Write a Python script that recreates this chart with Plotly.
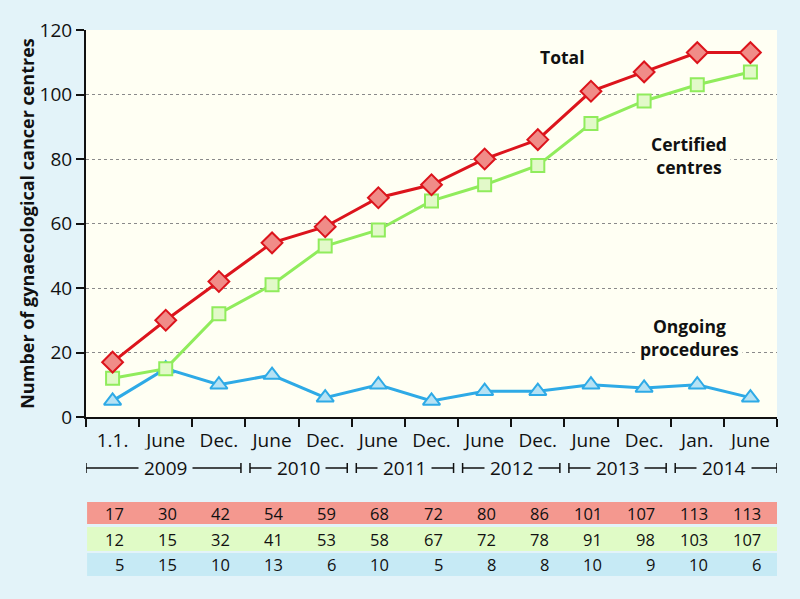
import plotly.graph_objects as go

BG = "#e3f3f9"
PLOT_BG = "#fffff3"
RED = "#dc141c"
GREEN = "#90ec5c"
BLUE = "#2eaae6"
FONT = "Open Sans"

# x-axis labels (one per survey date) and the year groups beneath them
periods = ["1.1.", "June", "Dec.", "June", "Dec.", "June", "Dec.",
           "June", "Dec.", "June", "Dec.", "Jan.", "June"]
years = ["2009", "2010", "2011", "2012", "2013", "2014"]
year_first = [0, 3, 5, 7, 9, 11]
year_last = [2, 4, 6, 8, 10, 12]

total = [17, 30, 42, 54, 59, 68, 72, 80, 86, 101, 107, 113, 113]
certified = [12, 15, 32, 41, 53, 58, 67, 72, 78, 91, 98, 103, 107]
ongoing = [5, 15, 10, 13, 6, 10, 5, 8, 8, 10, 9, 10, 6]

# layout in pixels
W, H = 800, 599
M_L, M_R, M_T, M_B = 86, 23, 30, 182
PLOT_H = H - M_T - M_B


def py(pix):
    """pixel y (from top of page) -> paper y"""
    return (H - M_B - pix) / PLOT_H


xs = list(range(len(periods)))

fig = go.Figure()
fig.add_trace(go.Scatter(
    x=xs, y=ongoing, mode="lines+markers", name="Ongoing procedures",
    line=dict(color=BLUE, width=3),
    marker=dict(symbol="triangle-up", size=15, color="#b6e2f4",
                line=dict(color=BLUE, width=2)),
))
fig.add_trace(go.Scatter(
    x=xs, y=certified, mode="lines+markers", name="Certified centres",
    line=dict(color=GREEN, width=3),
    marker=dict(symbol="square", size=13, color="#e2f9c9",
                line=dict(color=GREEN, width=2)),
))
fig.add_trace(go.Scatter(
    x=xs, y=total, mode="lines+markers", name="Total",
    line=dict(color=RED, width=3),
    marker=dict(symbol="diamond", size=16, color="#f08c88",
                line=dict(color=RED, width=2)),
))

annotations = []
shapes = []

# series labels inside the plot
for txt, x, y in [("Total", 8.45, 111.5),
                  ("Certified<br>centres", 10.85, 81),
                  ("Ongoing<br>procedures", 10.85, 24.5)]:
    annotations.append(dict(
        x=x, y=y, xref="x", yref="y", text=f"<b>{txt}</b>", showarrow=False,
        font=dict(family=FONT, size=17.5, color="#111"), bgcolor=PLOT_BG,
        borderpad=3,
    ))

# year brackets
yb = py(468)
cap = 5 / PLOT_H
inset = 0.085
for yr, a, b in zip(years, year_first, year_last):
    x0 = a - 0.5 + (0 if a == 0 else inset)
    x1 = b + 0.5 - (0 if b == len(periods) - 1 else inset)
    line = dict(color="#111", width=1.5)
    shapes.append(dict(type="line", xref="x", yref="paper", x0=x0, x1=x1,
                       y0=yb, y1=yb, line=line))
    for xe in (x0, x1):
        shapes.append(dict(type="line", xref="x", yref="paper", x0=xe, x1=xe,
                           y0=yb - cap, y1=yb + cap, line=line))
    annotations.append(dict(
        x=(a + b) / 2, y=yb, xref="x", yref="paper", text=yr, showarrow=False,
        yanchor="middle", font=dict(family=FONT, size=19, color="#111"),
        bgcolor=BG, borderpad=5,
    ))

# value table
rows = [(total, "#f4988f", 502, 524),
        (certified, "#e0fbc6", 527, 551),
        (ongoing, "#c6eaf5", 553, 576)]
for vals, col, top, bot in rows:
    shapes.append(dict(type="rect", xref="x", yref="paper", x0=-0.48, x1=12.5,
                       y0=py(bot), y1=py(top), fillcolor=col, line_width=0,
                       layer="below"))
    for i, v in enumerate(vals):
        annotations.append(dict(
            x=i, y=py((top + bot) / 2), xref="x", yref="paper", text=str(v),
            showarrow=False, xanchor="right", xshift=13, yanchor="middle",
            font=dict(family=FONT, size=16.5, color="#111"),
        ))

fig.update_layout(
    width=W, height=H,
    margin=dict(l=M_L, r=M_R, t=M_T, b=M_B),
    paper_bgcolor=BG, plot_bgcolor=PLOT_BG,
    showlegend=False,
    font=dict(family=FONT, size=17, color="#111"),
    annotations=annotations, shapes=shapes,
    xaxis=dict(
        range=[-0.5, 12.5], tickvals=xs, ticktext=periods,
        ticks="outside", ticklen=5, tickcolor="rgba(0,0,0,0)",
        showgrid=False, zeroline=False,
        showline=True, linecolor="#111", linewidth=2,
        minor=dict(tick0=-0.5, dtick=1, ticks="outside", ticklen=8,
                   tickwidth=2, tickcolor="#111", showgrid=False),
        tickfont=dict(family=FONT, size=19, color="#111"),
    ),
    yaxis=dict(
        range=[0, 120], tickvals=[0, 20, 40, 60, 80, 100, 120],
        ticks="outside", ticklen=8, tickwidth=2, tickcolor="#111",
        showline=True, linecolor="#111", linewidth=2, zeroline=False,
        showgrid=True, gridcolor="#8a8a8a", griddash="dot", gridwidth=1.2,
        tickfont=dict(family=FONT, size=19, color="#111"),
        title=dict(text="<b>Number of gynaecological cancer centres</b>",
                   font=dict(family=FONT, size=18, color="#111"), standoff=0),
    ),
)

fig.write_html("out.html", config={"displayModeBar": False},
               post_script="document.body.style.margin='0';")
